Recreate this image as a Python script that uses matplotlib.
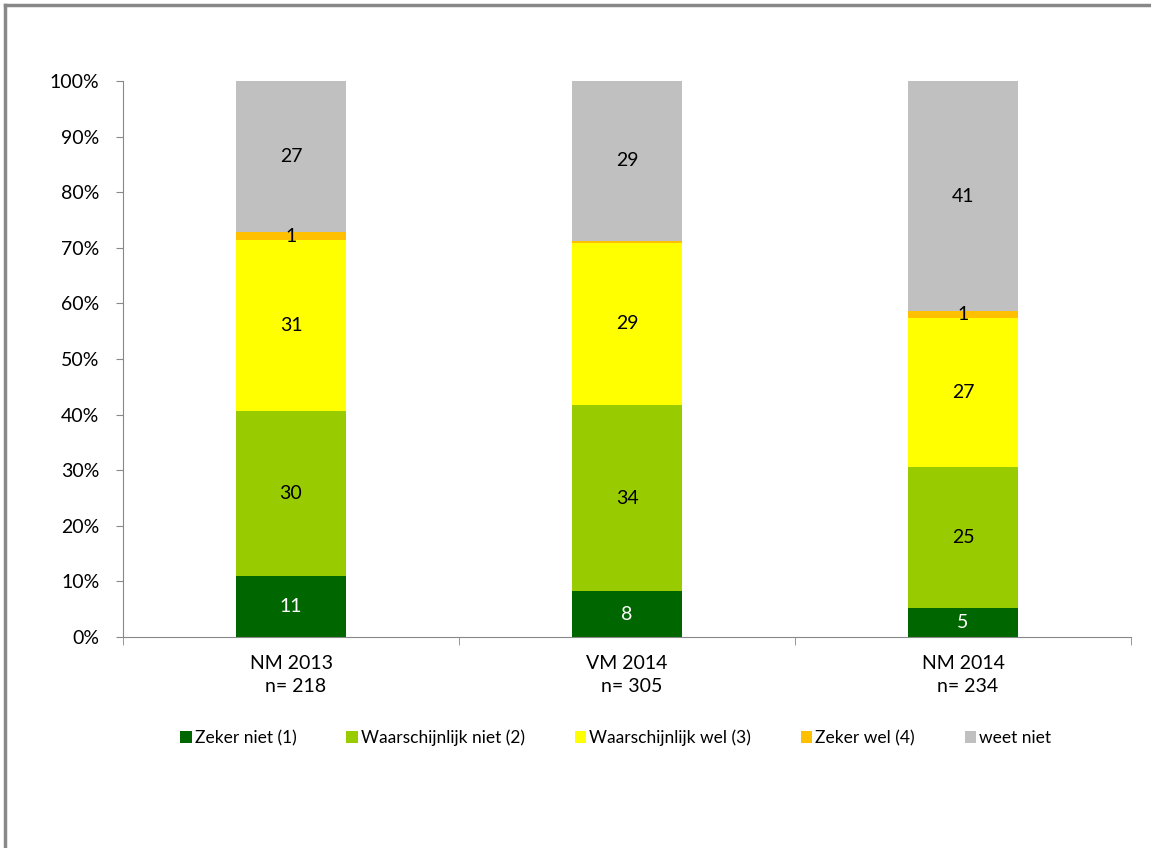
import numpy as np
import matplotlib
matplotlib.use('Agg')
import matplotlib.pyplot as plt
from matplotlib.lines import Line2D

plt.rcParams['font.family'] = ['Lato', 'DejaVu Sans']

categories = ['NM 2013\n  n= 218', 'VM 2014\n  n= 305', 'NM 2014\n  n= 234']
series = ['Zeker niet (1)', 'Waarschijnlijk niet (2)', 'Waarschijnlijk wel (3)',
          'Zeker wel (4)', 'weet niet']
zeker_niet = [11.0, 8.2, 5.2]
waarsch_niet = [29.6, 33.5, 25.4]
waarsch_wel = [30.8, 29.2, 26.8]
zeker_wel = [1.4, 0.4, 1.2]
weet_niet = [27.2, 28.7, 41.4]
colors = ['#006600', '#99cc00', '#ffff00', '#ffc000', '#c0c0c0']
label_colors = ['white', 'black', 'black', 'black', 'black']

values = [zeker_niet, waarsch_niet, waarsch_wel, zeker_wel, weet_niet]

fig = plt.figure(figsize=(11.51, 8.48), dpi=100)
ax = fig.add_axes([123 / 1151, 1 - 637 / 848, (1131 - 123) / 1151, (637 - 81) / 848])

x = np.arange(len(categories))
bottom = np.zeros(len(categories))
for vals, col, name, lc in zip(values, colors, series, label_colors):
    vals = np.array(vals)
    ax.bar(x, vals, 0.33, bottom=bottom, color=col, label=name, edgecolor='none')
    for xi, v, b in zip(x, vals, bottom):
        lab = int(round(v))
        if lab > 0:
            ax.text(xi, b + v / 2, str(lab), ha='center', va='center',
                    fontsize=14, color=lc)
    bottom += vals

ax.set_xlim(-0.5, 2.5)
ax.set_ylim(0, 100)
ax.set_yticks(np.arange(0, 101, 10))
ax.set_yticklabels([f'{v}%' for v in range(0, 101, 10)], fontsize=14)
ax.set_xticks(x)
ax.set_xticklabels(categories, fontsize=14, linespacing=1.45)
ax.set_xticks([-0.5, 0.5, 1.5, 2.5], minor=True)
ax.tick_params(axis='x', which='major', length=0, pad=13)
ax.tick_params(axis='x', which='minor', length=6, color='#888888')
ax.tick_params(axis='y', length=5, color='#888888', pad=12)
for s in ['top', 'right']:
    ax.spines[s].set_visible(False)
for s in ['left', 'bottom']:
    ax.spines[s].set_color('#888888')

fig.legend(loc='center', bbox_to_anchor=(0.535, 1 - 738 / 848), ncol=5, frameon=False,
           fontsize=12.5, handlelength=0.65, handleheight=0.65, handletextpad=0.2,
           columnspacing=2.85)

# outer chart border (left and top visible)
fig.add_artist(Line2D([5 / 1151, 5 / 1151], [0, 1 - 5 / 848], color='#888888', lw=2.5,
                      transform=fig.transFigure))
fig.add_artist(Line2D([5 / 1151, 1], [1 - 5 / 848, 1 - 5 / 848], color='#888888', lw=2.5,
                      transform=fig.transFigure))

fig.savefig('out.png', dpi=100)
